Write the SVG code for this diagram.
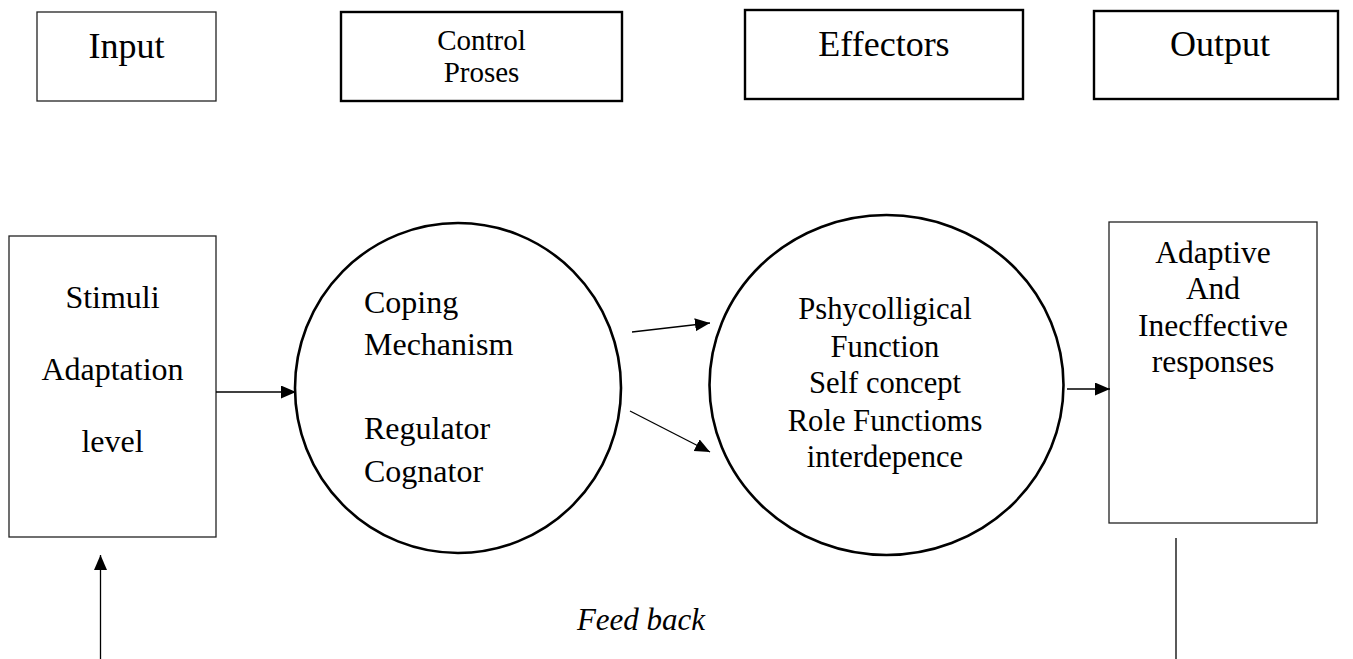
<svg xmlns="http://www.w3.org/2000/svg" width="1353" height="659" viewBox="0 0 1353 659">
<style>
.thin{fill:#fff;stroke:#222;stroke-width:1.3}
.bold{fill:#fff;stroke:#000;stroke-width:2.4}
.circ{fill:#fff;stroke:#000;stroke-width:2.6}
text{font-family:"Liberation Serif","Times New Roman",serif;fill:#000}
.c{text-anchor:middle}
.conn{stroke:#000;stroke-width:1.3;fill:none}
</style>
<defs>
<marker id="ah" markerUnits="userSpaceOnUse" markerWidth="16" markerHeight="14" refX="15" refY="6.5" orient="auto">
<path d="M0,0 L15,6.5 L0,13 z" fill="#000"/>
</marker>
</defs>
<rect width="1353" height="659" fill="#fff"/>
<g id="input-header">
<rect class="thin" x="37" y="12" width="179" height="89"/>
<text class="c" x="126.5" y="58" font-size="36">Input</text>
</g>
<g id="control-header">
<rect class="bold" x="341" y="12" width="281" height="89"/>
<text class="c" x="481.5" y="50" font-size="29">Control</text>
<text class="c" x="481.5" y="82" font-size="29">Proses</text>
</g>
<g id="effectors-header">
<rect class="bold" x="745" y="10" width="278" height="89"/>
<text class="c" x="884" y="56" font-size="36">Effectors</text>
</g>
<g id="output-header">
<rect class="bold" x="1094" y="11" width="244" height="88"/>
<text class="c" x="1220" y="56" font-size="36">Output</text>
</g>
<g id="stimuli">
<rect class="thin" x="9" y="236" width="207" height="301"/>
<text class="c" x="112.5" y="308" font-size="32">Stimuli</text>
<text class="c" x="112.5" y="380" font-size="32">Adaptation</text>
<text class="c" x="112.5" y="452" font-size="32">level</text>
</g>
<g id="coping">
<ellipse class="circ" cx="458" cy="388" rx="163" ry="165"/>
<text x="364" y="313" font-size="32">Coping</text>
<text x="364" y="355" font-size="32">Mechanism</text>
<text x="364" y="439" font-size="32">Regulator</text>
<text x="364" y="482" font-size="32">Cognator</text>
</g>
<g id="effectors">
<ellipse class="circ" cx="886.5" cy="385" rx="177" ry="170"/>
<text class="c" x="885" y="319" font-size="30.6">Pshycolligical</text>
<text class="c" x="885" y="357" font-size="30.6">Function</text>
<text class="c" x="885" y="393" font-size="30.6">Self concept</text>
<text class="c" x="885" y="431" font-size="30.6">Role Functioms</text>
<text class="c" x="885" y="467" font-size="30.6">interdepence</text>
</g>
<g id="responses">
<rect class="thin" x="1109" y="222" width="208" height="301"/>
<text class="c" x="1213" y="263" font-size="31.5">Adaptive</text>
<text class="c" x="1213" y="299" font-size="31.5">And</text>
<text class="c" x="1213" y="336" font-size="31.5">Inecffective</text>
<text class="c" x="1213" y="372" font-size="31.5">responses</text>
</g>
<g id="feedback-label">
<text class="c" x="641" y="630" font-size="31" font-style="italic">Feed back</text>
</g>
<g id="connectors">
<line class="conn" x1="216" y1="392" x2="296" y2="392" marker-end="url(#ah)"/>
<line class="conn" x1="632" y1="332" x2="710" y2="323" marker-end="url(#ah)"/>
<line class="conn" x1="630" y1="411" x2="710" y2="452" marker-end="url(#ah)"/>
<line class="conn" x1="1067" y1="389" x2="1110" y2="389" marker-end="url(#ah)"/>
<line class="conn" x1="1176" y1="538" x2="1176" y2="659"/>
<line class="conn" x1="100.5" y1="659" x2="100.5" y2="555" marker-end="url(#ah)"/>
</g>
</svg>
